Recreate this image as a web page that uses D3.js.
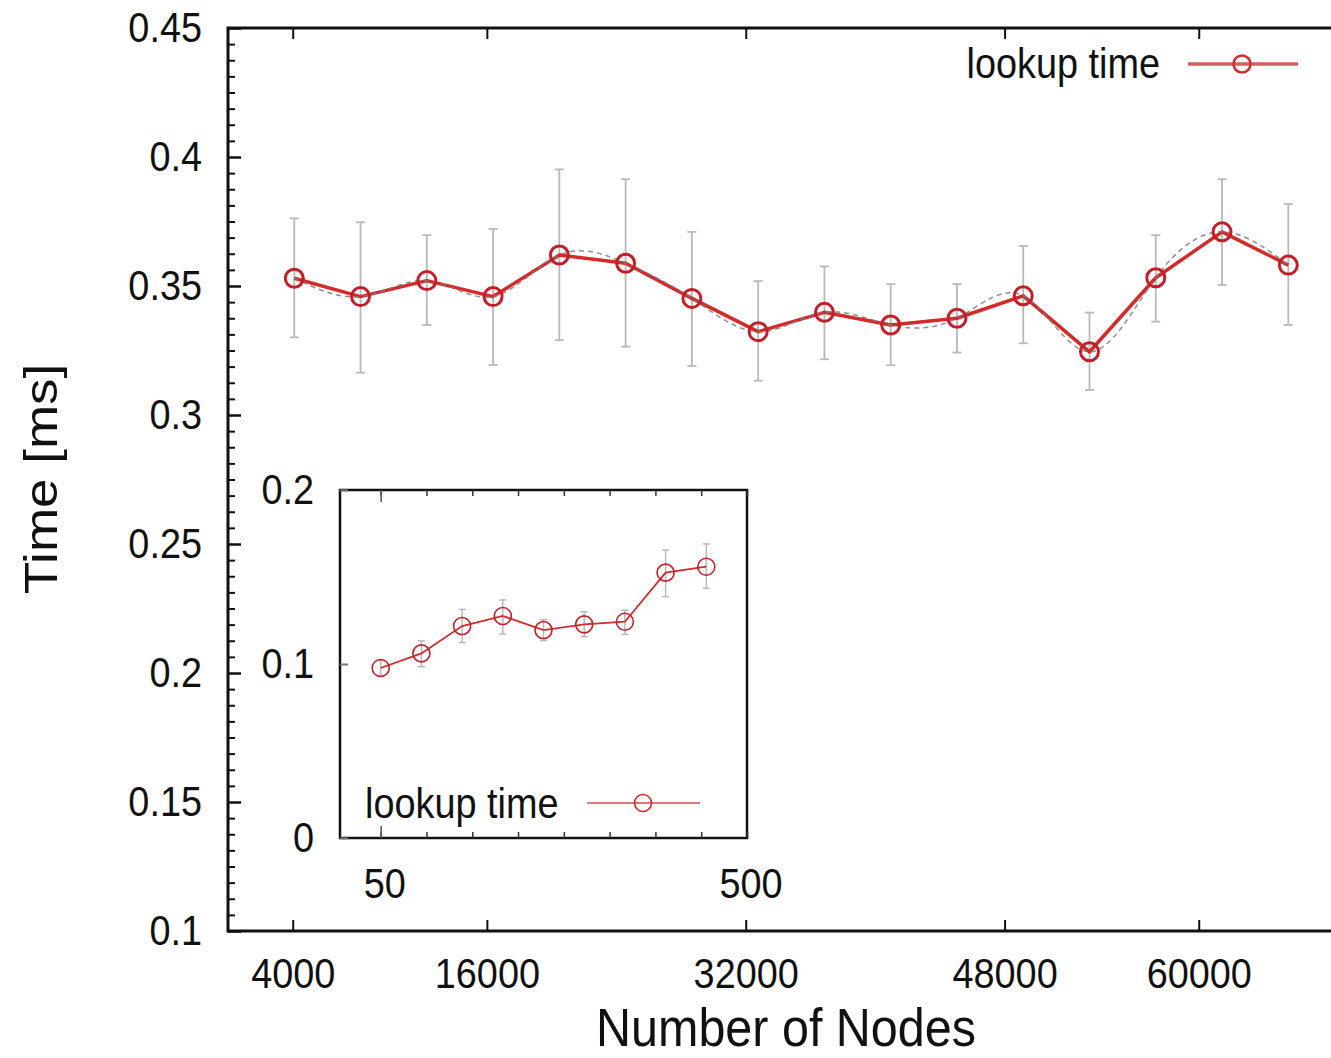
<!DOCTYPE html>
<html>
<head>
<meta charset="utf-8">
<script src="https://cdn.jsdelivr.net/npm/d3@7"></script>
<style>
  html, body { margin: 0; padding: 0; background: #fff; }
  svg { display: block; }
  text { font-family: "Liberation Sans", Arial, sans-serif; fill: #111; }
</style>
</head>
<body>
<div id="chart"></div>
<script>
// ---------------- data ----------------
const nodes = [4096, 8192, 12288, 16384, 20480, 24576, 28672, 32768,
               36864, 40960, 45056, 49152, 53248, 57344, 61440, 65536];
const lookupMean = [0.3530, 0.3459, 0.3521, 0.3459, 0.3620, 0.3588, 0.3452, 0.3323,
                    0.3398, 0.3349, 0.3375, 0.3462, 0.3245, 0.3532, 0.3710, 0.3581];
const lookupHigh = [0.3762, 0.3747, 0.3697, 0.3721, 0.3952, 0.3914, 0.3710, 0.3519,
                    0.3576, 0.3507, 0.3507, 0.3655, 0.3397, 0.3697, 0.3914, 0.3818];
const lookupLow  = [0.3301, 0.3164, 0.3349, 0.3194, 0.3290, 0.3265, 0.3190, 0.3133,
                    0.3216, 0.3193, 0.3242, 0.3278, 0.3097, 0.3362, 0.3504, 0.3349];

const xTickValues = [4000, 16000, 32000, 48000, 60000];
const xTickLabels = ["4000", "16000", "32000", "48000", "60000"];
const yTickValues = [0.1, 0.15, 0.2, 0.25, 0.3, 0.35, 0.4, 0.45];
const yTickLabels = ["0.1", "0.15", "0.2", "0.25", "0.3", "0.35", "0.4", "0.45"];

const insetNodes = [50, 100, 150, 200, 250, 300, 350, 400, 450];
const insetMean  = [0.0977, 0.1061, 0.1218, 0.1276, 0.1195, 0.1228, 0.1243, 0.1525, 0.1559];
const insetHigh  = [0.1020, 0.1134, 0.1314, 0.1368, 0.1255, 0.1300, 0.1310, 0.1655, 0.1690];
const insetLow   = [0.0935, 0.0985, 0.1123, 0.1172, 0.1135, 0.1157, 0.1170, 0.1387, 0.1435];
const insetXTickValues = [50, 500];
const insetXTickLabels = ["50", "500"];
const insetYTickValues = [0, 0.1, 0.2];
const insetYTickLabels = ["0", "0.1", "0.2"];

const seriesName = "lookup time";
const xTitle = "Number of Nodes";
const yTitle = "Time [ms]";

// ---------------- layout ----------------
const W = 1331, H = 1058;
const SX = 0.88;           // horizontal squish of the original figure
const FS = 43;             // tick / legend font size
const RED = "#d42a2a";
const RED_DARK = "#c41f28";
const GREY = "#b9b9b9";

const svg = d3.select("#chart").append("svg")
  .attr("width", W).attr("height", H)
  .attr("viewBox", `0 0 ${W} ${H}`);

const x = d3.scaleLinear().domain([0, 70000]).range([228, 228 + 70000 * 0.016179]);
const y = d3.scaleLinear().domain([0.1, 0.45]).range([931, 28]);

function squishTicks(g) {
  g.selectAll(".tick text").each(function () {
    const t = d3.select(this);
    const xv = +t.attr("x") || 0;
    t.attr("x", xv / SX).attr("transform", `scale(${SX},1)`);
  });
}

// ---------------- main frame ----------------
const main = svg.append("g");
main.append("rect")
  .attr("x", x.range()[0]).attr("y", y.range()[1])
  .attr("width", x.range()[1] - x.range()[0])
  .attr("height", y.range()[0] - y.range()[1])
  .attr("fill", "none").attr("stroke", "#111").attr("stroke-width", 3);

// minor y ticks
const yMinor = d3.range(0.1, 0.45 + 1e-9, 0.05 / 8).filter(v => !yTickValues.some(t => Math.abs(t - v) < 1e-6));
main.append("g").attr("transform", `translate(${x.range()[0]},0)`)
  .call(d3.axisLeft(y).tickValues(yMinor).tickSize(-7).tickFormat(""))
  .call(g => g.select(".domain").remove())
  .call(g => g.selectAll("line").attr("stroke", "#111").attr("stroke-width", 2));

// major y ticks
const yAxis = main.append("g").attr("transform", `translate(${x.range()[0]},0)`)
  .call(d3.axisLeft(y).tickValues(yTickValues).tickSize(-13).tickPadding(26)
        .tickFormat((d, i) => yTickLabels[i]))
  .call(g => g.select(".domain").remove())
  .call(g => g.selectAll("line").attr("stroke", "#111").attr("stroke-width", 2.5))
  .call(g => g.selectAll("text").attr("font-size", FS).attr("fill", "#111")
        .attr("font-family", "Liberation Sans, Arial, sans-serif"));
squishTicks(yAxis);

// bottom x ticks
const xAxis = main.append("g").attr("transform", `translate(0,${y.range()[0]})`)
  .call(d3.axisBottom(x).tickValues(xTickValues).tickSize(-11).tickPadding(26)
        .tickFormat((d, i) => xTickLabels[i]))
  .call(g => g.select(".domain").remove())
  .call(g => g.selectAll("line").attr("stroke", "#111").attr("stroke-width", 2))
  .call(g => g.selectAll("text").attr("font-size", FS).attr("fill", "#111")
        .attr("font-family", "Liberation Sans, Arial, sans-serif"));
squishTicks(xAxis);

// top mirrored x ticks
main.append("g").attr("transform", `translate(0,${y.range()[1]})`)
  .call(d3.axisTop(x).tickValues(xTickValues).tickSize(-11).tickFormat(""))
  .call(g => g.select(".domain").remove())
  .call(g => g.selectAll("line").attr("stroke", "#111").attr("stroke-width", 2));

// axis titles
svg.append("text")
  .attr("transform", `translate(786,1046) scale(0.915,1)`)
  .attr("text-anchor", "middle").attr("font-size", 53)
  .text(xTitle);
svg.append("text")
  .attr("transform", `translate(57,479) scale(${SX},1) rotate(-90)`)
  .attr("text-anchor", "middle").attr("font-size", 53)
  .text(yTitle);

// ---------------- main series ----------------
const mainData = nodes.map((n, i) => ({ x: n, m: lookupMean[i], hi: lookupHigh[i], lo: lookupLow[i] }));

const eb = main.append("g").attr("stroke", GREY).attr("stroke-width", 1.8).attr("fill", "none");
mainData.forEach(d => {
  const px = x(d.x);
  eb.append("line").attr("x1", px).attr("x2", px).attr("y1", y(d.hi)).attr("y2", y(d.lo));
  eb.append("line").attr("x1", px - 4.5).attr("x2", px + 4.5).attr("y1", y(d.hi)).attr("y2", y(d.hi));
  eb.append("line").attr("x1", px - 4.5).attr("x2", px + 4.5).attr("y1", y(d.lo)).attr("y2", y(d.lo));
});

main.append("path").datum(mainData)
  .attr("fill", "none").attr("stroke", RED).attr("stroke-width", 3.5)
  .attr("stroke-linejoin", "round")
  .attr("d", d3.line().x(d => x(d.x)).y(d => y(d.m)));

main.append("path").datum(mainData)
  .attr("fill", "none").attr("stroke", "#7a7a7a").attr("stroke-width", 1.5)
  .attr("stroke-dasharray", "5,4").attr("opacity", 0.85)
  .attr("d", d3.line().curve(d3.curveNatural).x(d => x(d.x)).y(d => y(d.m)));

main.append("g").selectAll("circle").data(mainData).join("circle")
  .attr("cx", d => x(d.x)).attr("cy", d => y(d.m)).attr("r", 9)
  .attr("fill", "none").attr("stroke", RED_DARK).attr("stroke-width", 3);

// main legend
const leg = svg.append("g");
leg.append("text").attr("transform", `translate(1160,78) scale(${SX},1)`)
  .attr("text-anchor", "end").attr("font-size", FS).text(seriesName);
leg.append("line").attr("x1", 1188).attr("x2", 1298).attr("y1", 64).attr("y2", 64)
  .attr("stroke", "#d46060").attr("stroke-width", 3.5);
leg.append("circle").attr("cx", 1242).attr("cy", 64).attr("r", 8.5)
  .attr("fill", "none").attr("stroke", RED).attr("stroke-width", 2.5);

// ---------------- inset ----------------
const ix = d3.scaleLinear().domain([0, 500]).range([340, 747]);
const iy = d3.scaleLinear().domain([0, 0.2]).range([838, 490]);
const inset = svg.append("g");

inset.append("rect")
  .attr("x", ix.range()[0]).attr("y", iy.range()[1])
  .attr("width", ix.range()[1] - ix.range()[0])
  .attr("height", iy.range()[0] - iy.range()[1])
  .attr("fill", "#fff").attr("stroke", "#111").attr("stroke-width", 2.5);

// inset x minor ticks (bottom & top)
const ixMinor = d3.range(50, 500 + 1e-9, 450 / 8);
[["b", iy.range()[0]], ["t", iy.range()[1]]].forEach(([side, ty]) => {
  const ax = side === "b" ? d3.axisBottom(ix) : d3.axisTop(ix);
  inset.append("g").attr("transform", `translate(0,${ty})`)
    .call(ax.tickValues(ixMinor).tickSize(-6).tickFormat(""))
    .call(g => g.select(".domain").remove())
    .call(g => g.selectAll("line").attr("stroke", "#333").attr("stroke-width", 1.5));
  inset.append("g").attr("transform", `translate(0,${ty})`)
    .call((side === "b" ? d3.axisBottom(ix) : d3.axisTop(ix)).tickValues([50]).tickSize(-12).tickFormat(""))
    .call(g => g.select(".domain").remove())
    .call(g => g.selectAll("line").attr("stroke", "#555").attr("stroke-width", 1.5));
});

const ixAxis = inset.append("g").attr("transform", `translate(0,${iy.range()[0]})`)
  .call(d3.axisBottom(ix).tickValues(insetXTickValues).tickSize(0).tickPadding(29)
        .tickFormat((d, i) => insetXTickLabels[i]))
  .call(g => g.select(".domain").remove())
  .call(g => g.selectAll("text").attr("font-size", FS).attr("fill", "#111").attr("dx", 4)
        .attr("font-family", "Liberation Sans, Arial, sans-serif"));
squishTicks(ixAxis);

const iyAxis = inset.append("g").attr("transform", `translate(${ix.range()[0]},0)`)
  .call(d3.axisLeft(iy).tickValues(insetYTickValues).tickSize(-8).tickPadding(26)
        .tickFormat((d, i) => insetYTickLabels[i]))
  .call(g => g.select(".domain").remove())
  .call(g => g.selectAll("line").attr("stroke", "#777").attr("stroke-width", 2))
  .call(g => g.selectAll("text").attr("font-size", FS).attr("fill", "#111")
        .attr("font-family", "Liberation Sans, Arial, sans-serif"));
squishTicks(iyAxis);

const insetData = insetNodes.map((n, i) => ({ x: n, m: insetMean[i], hi: insetHigh[i], lo: insetLow[i] }));
const ieb = inset.append("g").attr("stroke", GREY).attr("stroke-width", 1.5);
insetData.forEach(d => {
  const px = ix(d.x);
  ieb.append("line").attr("x1", px).attr("x2", px).attr("y1", iy(d.hi)).attr("y2", iy(d.lo));
  ieb.append("line").attr("x1", px - 3.5).attr("x2", px + 3.5).attr("y1", iy(d.hi)).attr("y2", iy(d.hi));
  ieb.append("line").attr("x1", px - 3.5).attr("x2", px + 3.5).attr("y1", iy(d.lo)).attr("y2", iy(d.lo));
});
inset.append("path").datum(insetData)
  .attr("fill", "none").attr("stroke", RED).attr("stroke-width", 1.8)
  .attr("d", d3.line().x(d => ix(d.x)).y(d => iy(d.m)));
inset.append("g").selectAll("circle").data(insetData).join("circle")
  .attr("cx", d => ix(d.x)).attr("cy", d => iy(d.m)).attr("r", 8.5)
  .attr("fill", "none").attr("stroke", RED_DARK).attr("stroke-width", 1.6);

// inset legend
inset.append("text").attr("transform", `translate(365,818) scale(${SX},1)`)
  .attr("text-anchor", "start").attr("font-size", FS).text(seriesName);
inset.append("line").attr("x1", 587).attr("x2", 700).attr("y1", 803).attr("y2", 803)
  .attr("stroke", "#e07a7a").attr("stroke-width", 2.2);
inset.append("circle").attr("cx", 643).attr("cy", 803).attr("r", 8.5)
  .attr("fill", "none").attr("stroke", RED).attr("stroke-width", 1.6);
</script>
</body>
</html>
